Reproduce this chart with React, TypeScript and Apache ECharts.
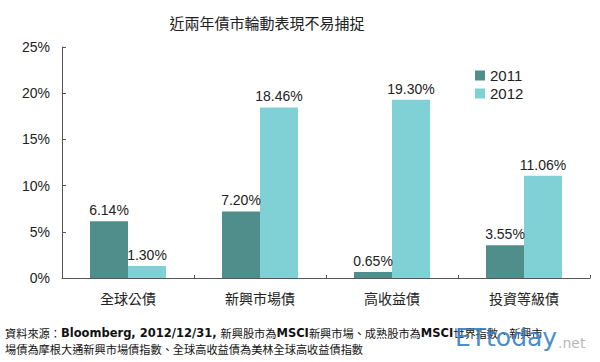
import React, { useEffect, useRef } from "react";
import * as echarts from "echarts";

const categories = ["全球公債", "新興市場債", "高收益債", "投資等級債"];
const series2011 = [6.14, 7.2, 0.65, 3.55];
const series2012 = [1.3, 18.46, 19.3, 11.06];
const yTicks = [0, 5, 10, 15, 20, 25];
const title = "近兩年債市輪動表現不易捕捉";
const footnote1 = "資料來源：Bloomberg, 2012/12/31, 新興股市為MSCI新興市場、成熟股市為MSCI世界指數、新興市";
const footnote2 = "場債為摩根大通新興市場債指數、全球高收益債為美林全球高收益債指數";

function toRich(s: string) {
  const parts = s.match(/[\x20-\x7e]+|[^\x20-\x7e]+/g) || [];
  return parts.map((p) => (/^[\x20-\x7e]+$/.test(p) ? `{l|${p}}` : `{c|${p}}`)).join("");
}

export default function App() {
  const ref = useRef<HTMLDivElement>(null);
  useEffect(() => {
    const chart = echarts.init(ref.current!, null, { renderer: "svg" });
    const font = "'Liberation Sans', Arial, sans-serif";
    const cjk = "'Noto Sans CJK TC', sans-serif";
    const rich = {
      c: { fontSize: 11.2, fill: "#111", color: "#111", fontFamily: cjk },
      l: { fontSize: 11.5, color: "#111", fontWeight: "bold", fontFamily: "'DejaVu Sans', sans-serif" },
    };
    const label = {
      show: true,
      position: "top" as const,
      formatter: (p: any) => p.value.toFixed(2) + "%",
      color: "#222",
      fontSize: 14,
      fontFamily: font,
      distance: 4,
    };
    chart.setOption({
      animation: false,
      backgroundColor: "#fff",
      title: {
        text: title,
        left: 262,
        top: 10,
        textAlign: "center",
        textStyle: { fontSize: 15, fontWeight: "normal", color: "#222", fontFamily: cjk },
      },
      legend: {
        orient: "vertical",
        left: 470,
        top: 63,
        itemWidth: 10,
        itemHeight: 10,
        itemGap: 3,
        icon: "rect",
        textStyle: { fontSize: 15, color: "#222", fontFamily: font },
        data: ["2011", "2012"],
      },
      grid: { left: 62, right: 10, top: 47, bottom: 84 },
      xAxis: {
        type: "category",
        data: categories,
        axisLine: { lineStyle: { color: "#555" } },
        axisTick: { show: true, inside: true, length: 3, lineStyle: { color: "#555" } },
        axisLabel: { color: "#222", fontSize: 14, margin: 13, fontFamily: cjk },
      },
      yAxis: {
        type: "value",
        min: 0,
        max: 25,
        interval: 5,
        axisLine: { show: true, lineStyle: { color: "#555" } },
        axisTick: { show: true, inside: true, length: 4, lineStyle: { color: "#555" } },
        splitLine: { show: false },
        axisLabel: {
          color: "#222",
          fontSize: 14,
          margin: 12,
          fontFamily: font,
          formatter: (v: number) => (yTicks.includes(v) ? v + "%" : ""),
        },
      },
      series: [
        {
          name: "2011",
          type: "bar",
          data: series2011,
          barWidth: 38,
          barGap: "0%",
          itemStyle: { color: "#4f8e8b" },
          label,
        },
        {
          name: "2012",
          type: "bar",
          data: series2012,
          barWidth: 38,
          itemStyle: { color: "#80d1d5" },
          label,
        },
      ],
      graphic: [
        {
          type: "text",
          left: 5,
          top: 327,
          style: { text: toRich(footnote1), rich, fill: "#111" },
        },
        {
          type: "text",
          left: 5,
          top: 343,
          style: { text: toRich(footnote2), rich, fill: "#111" },
        },
        {
          type: "text",
          left: 455,
          top: 325,
          style: { text: "ETtoday", fontSize: 25, fill: "rgba(50,125,200,0.9)", fontFamily: "'DejaVu Sans', sans-serif" },
        },
        {
          type: "text",
          left: 558,
          top: 336,
          style: { text: ".net", fontSize: 14, fill: "rgba(170,170,170,0.85)", fontFamily: "'DejaVu Sans', sans-serif" },
        },
      ],
    });
    return () => chart.dispose();
  }, []);
  return <div ref={ref} style={{ width: 600, height: 362, position: "absolute", left: 0, top: 0 }} />;
}
